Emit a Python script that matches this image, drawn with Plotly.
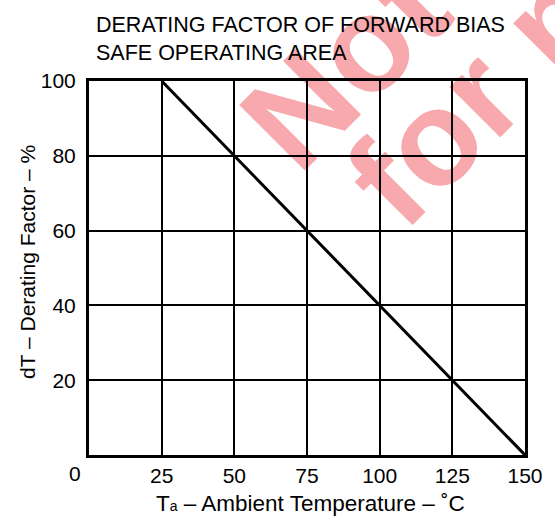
import plotly.graph_objects as go

# Data
temperature = [25, 150]          # Ta (°C)
derating = [100, 0]              # dT (%)
x_ticks = [25, 50, 75, 100, 125, 150]
y_ticks = [20, 40, 60, 80, 100]

FONT = "Liberation Sans, Arial, Helvetica, sans-serif"
L, R, T, B = 89, 21, 81, 62
W, H = 555, 517
PW, PH = W - L - R, H - T - B

def px2paper(px, py):
    return (px - L) / PW, (H - B - py) / PH

fig = go.Figure()
fig.add_trace(go.Scatter(x=temperature, y=derating, mode="lines",
                         line=dict(color="black", width=3), showlegend=False,
                         hoverinfo="skip"))

# Watermark (drawn below the grid)
WM_COLOR = "#f7a9ad"
WM_SIZE = 135
def watermark(text, bx, by):
    x0, y0 = px2paper(bx, by)
    x1, y1 = px2paper(bx + 300, by - 300)
    fig.add_shape(type="line", xref="paper", yref="paper", x0=x0, y0=y0, x1=x1, y1=y1,
                  line=dict(width=0, color="rgba(0,0,0,0)"), layer="below",
                  label=dict(text="<b>" + text + "</b>", textposition="start", padding=0,
                             xanchor="left", yanchor="middle", textangle=-45,
                             font=dict(family="Liberation Sans, Arial", size=WM_SIZE,
                                       color=WM_COLOR, weight="bold")))

watermark("Not recommended", 260, 135)
watermark("for new design", 367, 192)

fig.update_xaxes(range=[0, 150], tickvals=x_ticks, showgrid=True, gridcolor="black", gridwidth=1.5,
                 showline=True, linecolor="black", linewidth=3, mirror=True,
                 ticks="", tickfont=dict(family=FONT, size=21, color="black"),
                 zeroline=False, fixedrange=True)
fig.update_yaxes(range=[0, 100], tickvals=y_ticks, showgrid=True, gridcolor="black", gridwidth=1.5,
                 showline=True, linecolor="black", linewidth=3, mirror=True,
                 ticks="outside", ticklen=6, tickcolor="rgba(0,0,0,0)",
                 tickfont=dict(family=FONT, size=21, color="black"), zeroline=False, fixedrange=True)

fig.add_annotation(text="0", x=0, xref="x", y=0, yref="paper", xshift=-14, yshift=-5,
                   xanchor="center", yanchor="top", showarrow=False,
                   font=dict(family=FONT, size=21, color="black"))
fig.add_annotation(text="T<span style='font-size:14px'>a</span> – Ambient Temperature – ˚C",
                   x=(315 - L) / PW, xref="paper",
                   y=0, yref="paper", yshift=-34, xanchor="center", yanchor="top", showarrow=False,
                   font=dict(family=FONT, size=22.5, color="black"))
fig.add_annotation(text="dT – Derating Factor – %", x=0, xref="paper", xshift=-62,
                   y=(H - B - 262) / PH, yref="paper", textangle=-90, xanchor="center",
                   yanchor="middle", showarrow=False,
                   font=dict(family=FONT, size=21, color="black"))
fig.add_annotation(text="DERATING FACTOR OF FORWARD BIAS<br>SAFE OPERATING AREA",
                   x=(94 - L) / PW, xref="paper", y=(H - B - 11) / PH, yref="paper",
                   xanchor="left", yanchor="top", align="left", showarrow=False,
                   font=dict(family=FONT, size=21.5, color="black"))

fig.update_layout(
    width=W, height=H, margin=dict(l=L, r=R, t=T, b=B),
    paper_bgcolor="white", plot_bgcolor="rgba(0,0,0,0)",
)
fig.write_html("out.html", config={"displayModeBar": False},
               post_script="document.body.style.margin='0px';")
